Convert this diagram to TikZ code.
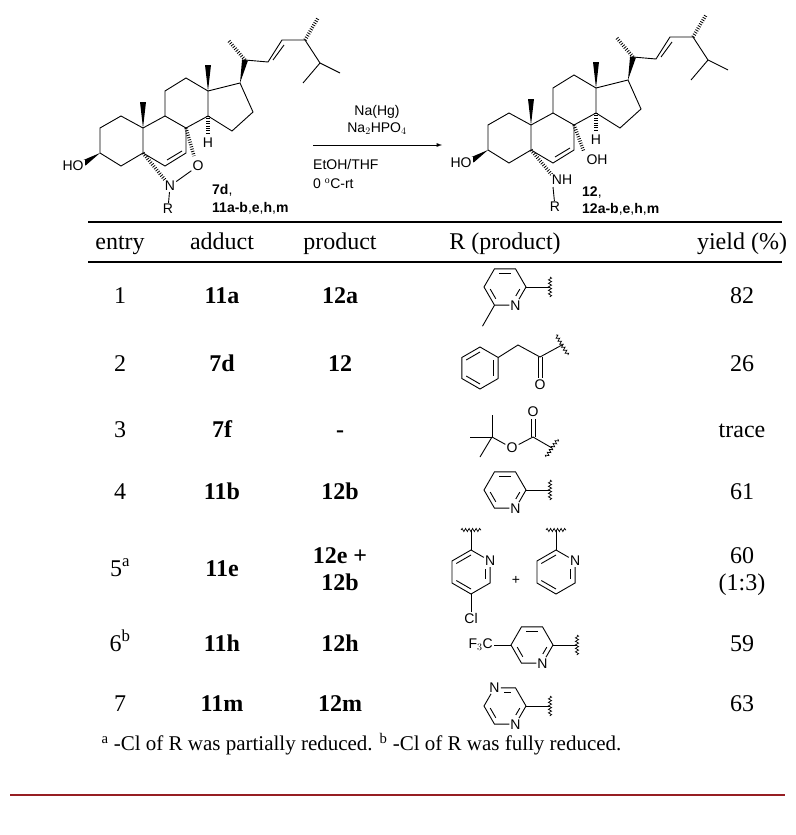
\documentclass[tikz,border=0pt]{standalone}
\usepackage{fontspec}
\setmainfont{Liberation Serif}
\newfontfamily\chemfont{Liberation Sans}
\usetikzlibrary{calc,decorations.pathmorphing}

\definecolor{rulered}{RGB}{150,30,35}

\tikzset{
  bond/.style={line width=0.9pt},
  hashbond/.style={line width=3.5pt, dash pattern=on 0.8pt off 1.6pt},
  atom/.style={font=\chemfont\fontsize{14}{16}\selectfont, fill=white, inner sep=1pt},
  wavy/.style={line width=0.7pt, decorate, decoration={snake, segment length=3.5pt, amplitude=1.6pt}},
  cell/.style={font=\fontsize{24}{28}\selectfont, text height=17pt, text depth=5pt},
  boldcell/.style={font=\bfseries\fontsize{24}{28}\selectfont, text height=17pt, text depth=5pt},
  cpdlabel/.style={font=\chemfont\fontsize{14}{16}\selectfont, anchor=west, inner sep=0pt},
}

% filled wedge bond from narrow end #1 to wide end #2
\newcommand\wedgebond[2]{\fill #1 -- ($#2!3pt!90:#1$) -- ($#2!3pt!-90:#1$) -- cycle;}

% steroid skeleton with side chain
\newcommand\steroidcore[1]{%
  \begin{scope}[shift={#1}]
    % rings A-D
    \draw[bond] (121,116) -- (100,128) -- (100,153) -- (121,166) -- (143,153) -- (143,128) -- cycle;
    \draw[bond] (143,153) -- (165,166) -- (186,153) -- (186,128) -- (165,116) -- (143,128);
    \draw[bond] (165,116) -- (165,91) -- (186,78) -- (208,91) -- (208,116) -- (186,128);
    \draw[bond] (208,91) -- (240,83) -- (253,112) -- (232,131) -- (208,116);
    \draw[bond] (167,160) -- (182,151);
    % methyls
    \wedgebond{(143,128)}{(143,102)}
    \wedgebond{(208,91)}{(208,65)}
    % side chain
    \wedgebond{(240,83)}{(245,60)}
    \draw[hashbond] (245,60) -- (228,40);
    \draw[bond] (245,60) -- (268,62) -- (282,40) -- (305,40) -- (320,63) -- (340,73);
    \draw[bond] (320,63) -- (303,83);
    \draw[bond] (273,60) -- (284,45);
    \draw[hashbond] (305,40) -- (318,18);
    % 3-OH
    \wedgebond{(100,153)}{(84,163)}
    \node[atom] (ho) at (73,166) {HO};
    % 14-H
    \draw[hashbond] (208,116) -- (208,134);
    \node[atom] (h14) at (208,143) {H};
  \end{scope}}

\begin{document}
\begin{tikzpicture}[x=1pt,y=-1pt]
\useasboundingbox (0,0) rectangle (795,835);

% starting adduct
\steroidcore{(0,0)}
\draw[hashbond] (143,153) -- (165,180);
\node[atom] (n7) at (170,186) {N};
\node[atom] (o7) at (198,166) {O};
\draw[bond] (n7) -- (o7);
\draw[hashbond] (186,128) -- (194,156);
\node[atom] (r7) at (168,209) {R};
\draw[bond] (n7) -- (r7);
\node[cpdlabel] (lbl7) at (212,190) {\textbf{7d},};
\node[cpdlabel] (lbl11) at (212,208) {\textbf{11a-b},\textbf{e},\textbf{h},\textbf{m}};

% reaction arrow
\coordinate (arrowin) at (313,145);
\coordinate (arrowout) at (442,145);
\draw[bond,-latex] (arrowin) -- (arrowout);
\node[cpdlabel, anchor=center] (reag1) at (377,112) {Na(Hg)};
\node[cpdlabel, anchor=center] (reag2) at (377,129) {Na$_2$HPO$_4$};
\node[cpdlabel] (cond1) at (313,164) {EtOH/THF};
\node[cpdlabel] (cond2) at (313,184) {0 $^{\mathrm{o}}$C-rt};

% product
\steroidcore{(388,-3)}
\draw[hashbond] (531,150) -- (552,175);
\node[atom] (nh) at (562,180) {NH};
\node[atom] (r12) at (555,207) {R};
\draw[bond] (553,187) -- (r12);
\draw[hashbond] (574,125) -- (584,152);
\node[atom] (oh) at (597,160) {OH};
\node[cpdlabel] (lbl12) at (582,193) {\textbf{12},};
\node[cpdlabel] (lbl12b) at (582,209) {\textbf{12a-b},\textbf{e},\textbf{h},\textbf{m}};

% table rules
\draw[line width=2.5pt] (88,222) -- (782,222);
\draw[line width=1.2pt] (88,262) -- (782,262);
\draw[rulered, line width=2pt] (10,795) -- (785,795);

% header
\node[cell] (hentry) at (120,243) {entry};
\node[cell] (hadduct) at (222,243) {adduct};
\node[cell] (hproduct) at (340,243) {product};
\node[cell] (hr) at (505,243) {R (product)};
\node[cell] (hyield) at (742,243) {yield (\%)};

% rows
\foreach \y/\e/\a/\p/\yl in {297/1/11a/12a/82, 365/2/7d/12/26, 431/3/7f/-/trace,
    493/4/11b/12b/61, 645/6$^{\mathrm{b}}$/11h/12h/59, 705/7/11m/12m/63}{
  \node[cell] at (120,\y) {\e};
  \node[boldcell] at (222,\y) {\a};
  \node[boldcell] at (340,\y) {\p};
  \node[cell] at (742,\y) {\yl};
}
\node[cell] (e5) at (120,570) {5$^{\mathrm{a}}$};
\node[boldcell] (a5) at (222,570) {11e};
\node[boldcell] (p5a) at (340,557) {12e +};
\node[boldcell] (p5b) at (340,584) {12b};
\node[cell] (y5a) at (742,557) {60};
\node[cell] (y5b) at (742,584) {(1:3)};

% R, row 1: 6-methylpyridin-2-yl
\begin{scope}[shift={(505,287)}]
  \node[atom] (n1) at (60:21) {N};
  \draw[bond] (n1) -- (0:21) -- (300:21) -- (240:21) -- (180:21) -- (120:21) -- (n1);
  \draw[bond] ($(300:16)!0.15!(240:16)$) -- ($(240:16)!0.15!(300:16)$);
  \draw[bond] ($(180:16)!0.15!(120:16)$) -- ($(120:16)!0.15!(180:16)$);
  \draw[bond] ($(0:16)!0.15!(60:16)$) -- ($(60:16)!0.35!(0:16)$);
  \draw[bond] (120:21) -- ++(-12,21);
  \draw[bond] (0:21) -- (45,0);
  \draw[wavy] (45,-10) -- (45,10);
\end{scope}

% R, row 2: phenylacetyl
\begin{scope}[shift={(480,368)}]
  \draw[bond] (30:21) \foreach \t in {90,150,...,390}{ -- (\t:21)};
  \draw[bond] (90:16) -- (150:16);
  \draw[bond] (210:16) -- (270:16);
  \draw[bond] (330:16) -- (30:16);
  \draw[bond] (330:21) -- (38,-23) -- (60,-11) -- (82,-23);
  \node[atom] (o2) at (60,17) {O};
  \draw[bond] (58,-11) -- (58,10);
  \draw[bond] (62,-11) -- (62,10);
  \draw[wavy] (76,-33) -- (88,-13);
\end{scope}

% R, row 3: Boc
\begin{scope}[shift={(492,437)}]
  \draw[bond] (0,-22) -- (0,0);
  \draw[bond] (-22,0) -- (0,0);
  \draw[bond] (-12,20) -- (0,0);
  \node[atom] (o3) at (20,11) {O};
  \draw[bond] (0,0) -- (o3) -- (41,0) -- (60,11);
  \node[atom] (o3b) at (41,-25) {O};
  \draw[bond] (39,0) -- (39,-18);
  \draw[bond] (43,0) -- (43,-18);
  \draw[wavy] (54,20) -- (66,2);
\end{scope}

% R, row 4: pyridin-2-yl
\begin{scope}[shift={(505,490)}]
  \node[atom] (n4) at (60:21) {N};
  \draw[bond] (n4) -- (0:21) -- (300:21) -- (240:21) -- (180:21) -- (120:21) -- (n4);
  \draw[bond] ($(300:16)!0.15!(240:16)$) -- ($(240:16)!0.15!(300:16)$);
  \draw[bond] ($(180:16)!0.15!(120:16)$) -- ($(120:16)!0.15!(180:16)$);
  \draw[bond] ($(0:16)!0.15!(60:16)$) -- ($(60:16)!0.35!(0:16)$);
  \draw[bond] (0:21) -- (45,0);
  \draw[wavy] (45,-10) -- (45,10);
\end{scope}

% R, row 5: 5-chloropyridin-2-yl + pyridin-2-yl
\begin{scope}[shift={(471,572)}]
  \node[atom] (n5a) at (330:22) {N};
  \draw[bond] (n5a) -- (270:22) -- (210:22) -- (150:22) -- (90:22) -- (30:22) -- (n5a);
  \draw[bond] (270:17) -- (210:17);
  \draw[bond] (150:17) -- (90:17);
  \draw[bond] ($(30:17)!0.1!(330:17)$) -- ($(330:17)!0.35!(30:17)$);
  \draw[bond] (270:22) -- (0,-42);
  \draw[wavy] (-10,-42) -- (10,-42);
  \node[atom] (cl) at (0,46) {Cl};
  \draw[bond] (90:22) -- (cl);
  \node[atom] (plus) at (45,8) {+};
\end{scope}
\begin{scope}[shift={(556,572)}]
  \node[atom] (n5b) at (330:22) {N};
  \draw[bond] (n5b) -- (270:22) -- (210:22) -- (150:22) -- (90:22) -- (30:22) -- (n5b);
  \draw[bond] (270:17) -- (210:17);
  \draw[bond] (150:17) -- (90:17);
  \draw[bond] ($(30:17)!0.1!(330:17)$) -- ($(330:17)!0.35!(30:17)$);
  \draw[bond] (270:22) -- (0,-42);
  \draw[wavy] (-10,-42) -- (10,-42);
\end{scope}

% R, row 6: 5-(trifluoromethyl)pyridin-2-yl
\begin{scope}[shift={(532,645)}]
  \node[atom] (n6) at (60:21) {N};
  \draw[bond] (n6) -- (0:21) -- (300:21) -- (240:21) -- (180:21) -- (120:21) -- (n6);
  \draw[bond] ($(300:16)!0.15!(240:16)$) -- ($(240:16)!0.15!(300:16)$);
  \draw[bond] ($(180:16)!0.15!(120:16)$) -- ($(120:16)!0.15!(180:16)$);
  \draw[bond] ($(0:16)!0.15!(60:16)$) -- ($(60:16)!0.35!(0:16)$);
  \draw[bond] (0:21) -- (45,0);
  \draw[wavy] (45,-10) -- (45,10);
  \node[atom, anchor=east] (cf3) at (-38,0) {F$_3$C};
  \draw[bond] (180:21) -- (cf3);
\end{scope}

% R, row 7: pyrazin-2-yl
\begin{scope}[shift={(505,706)}]
  \node[atom] (n7a) at (240:21) {N};
  \node[atom] (n7b) at (60:21) {N};
  \draw[bond] (0:21) -- (300:21) -- (n7a) -- (180:21) -- (120:21) -- (n7b) -- (0:21);
  \draw[bond] ($(300:16)!0.15!(240:16)$) -- ($(240:16)!0.45!(300:16)$);
  \draw[bond] ($(180:16)!0.15!(120:16)$) -- ($(120:16)!0.15!(180:16)$);
  \draw[bond] ($(0:16)!0.15!(60:16)$) -- ($(60:16)!0.35!(0:16)$);
  \draw[bond] (0:21) -- (45,0);
  \draw[wavy] (45,-10) -- (45,10);
\end{scope}

% footnote
\node[anchor=west, font=\fontsize{21}{25}\selectfont] (note) at (98,744)
  {$^{\mathrm{a}}$ -Cl of R was partially reduced. $^{\mathrm{b}}$ -Cl of R was fully reduced.};
\end{tikzpicture}
\end{document}
